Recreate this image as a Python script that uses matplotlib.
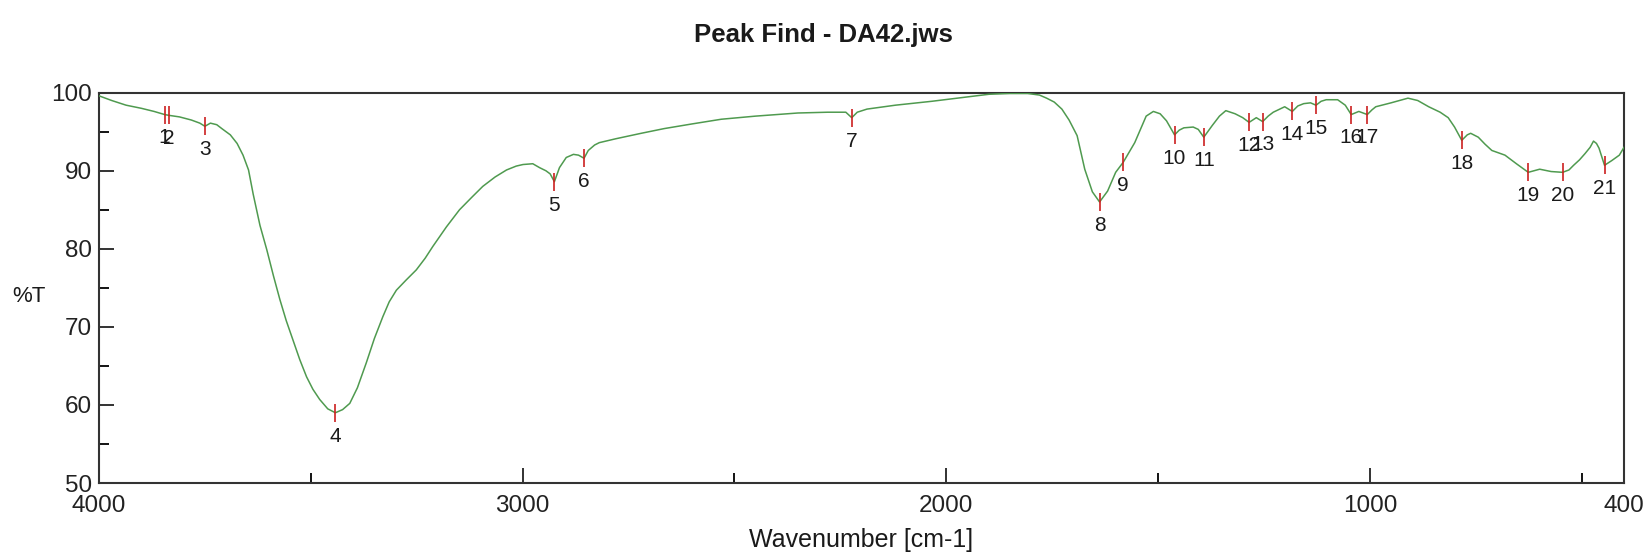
import matplotlib
matplotlib.use("Agg")
import matplotlib.pyplot as plt
from matplotlib.ticker import MultipleLocator

plt.rcParams['font.family'] = ['Liberation Sans', 'DejaVu Sans']

# IR spectrum trace (wavenumber in cm-1, transmittance in %T)
wavenumber = [
    4000, 3970, 3936, 3900, 3870, 3845, 3835, 3810, 3782, 3762, 3750, 3737,
    3722, 3710, 3690, 3674, 3660, 3647, 3636, 3620, 3604, 3588, 3573, 3558,
    3542, 3526, 3510, 3495, 3479, 3460, 3442, 3425, 3408, 3390, 3369, 3350,
    3330, 3315, 3298, 3275, 3251, 3230, 3212, 3180, 3149, 3120, 3094, 3065,
    3038, 3015, 2999, 2976, 2960, 2945, 2935, 2925, 2913, 2897, 2880, 2868,
    2855, 2845, 2830, 2819, 2780, 2720, 2666, 2600, 2531, 2450, 2350, 2280,
    2237, 2223, 2210, 2187, 2120, 2034, 1960, 1899, 1850, 1808, 1780, 1763,
    1745, 1727, 1710, 1691, 1673, 1655, 1638, 1619, 1600, 1582, 1570, 1555,
    1540, 1528, 1511, 1495, 1480, 1461, 1450, 1439, 1417, 1405, 1392, 1380,
    1372, 1355, 1340, 1318, 1300, 1285, 1268, 1253, 1240, 1228, 1201, 1183,
    1170, 1156, 1140, 1127, 1115, 1103, 1076, 1058, 1044, 1026, 1006, 995,
    986, 950, 910, 887, 861, 834, 815, 800, 783, 770, 762, 744,
    728, 712, 681, 654, 626, 599, 572, 545, 530, 519, 505, 492,
    480, 472, 465, 459, 446, 429, 411, 400,
]
transmittance = [
    99.6, 99.0, 98.4, 98.0, 97.6, 97.2, 97.1, 96.9, 96.5, 96.1, 95.7, 96.1,
    95.9, 95.4, 94.6, 93.5, 92.0, 90.1, 87.0, 83.0, 79.9, 76.5, 73.5, 70.8,
    68.3, 65.8, 63.6, 62.0, 60.7, 59.5, 59.0, 59.4, 60.2, 62.2, 65.4, 68.5,
    71.3, 73.2, 74.7, 76.0, 77.3, 78.8, 80.3, 82.8, 85.0, 86.6, 88.0, 89.2,
    90.1, 90.6, 90.8, 90.9, 90.4, 90.0, 89.6, 88.6, 90.4, 91.7, 92.1, 92.0,
    91.6, 92.6, 93.3, 93.6, 94.1, 94.8, 95.4, 96.0, 96.6, 97.0, 97.4, 97.5,
    97.5, 96.8, 97.5, 97.9, 98.4, 98.9, 99.4, 99.8, 99.9, 99.9, 99.7, 99.3,
    98.8, 97.9, 96.5, 94.5, 90.2, 87.3, 86.0, 87.4, 89.8, 91.1, 92.2, 93.6,
    95.5, 97.0, 97.6, 97.3, 96.4, 94.6, 95.2, 95.5, 95.6, 95.3, 94.3, 95.2,
    95.8, 97.0, 97.7, 97.3, 96.8, 96.2, 96.8, 96.3, 97.0, 97.5, 98.2, 97.6,
    98.3, 98.6, 98.7, 98.4, 98.9, 99.1, 99.1, 98.4, 97.2, 97.6, 97.2, 97.8,
    98.2, 98.7, 99.3, 99.0, 98.2, 97.5, 96.8, 95.6, 93.9, 94.6, 94.8, 94.3,
    93.4, 92.6, 92.0, 90.9, 89.8, 90.2, 89.9, 89.8, 90.1, 90.7, 91.4, 92.2,
    93.0, 93.8, 93.5, 92.9, 90.7, 91.3, 92.0, 93.0,
]

# Peaks found by the peak-pick routine
peak_wn = [3845, 3835, 3750, 3442, 2925, 2855, 2223, 1638, 1582, 1461, 1392,
           1285, 1253, 1183, 1127, 1044, 1006, 783, 626, 545, 446]
peak_t = [97.2, 97.1, 95.7, 59.0, 88.6, 91.6, 96.8, 86.0, 91.1, 94.6, 94.3,
          96.2, 96.3, 97.6, 98.4, 97.2, 97.2, 93.9, 89.8, 89.8, 90.7]
peak_labels = [str(i) for i in range(1, 22)]

fig = plt.figure(figsize=(16.46, 5.52), dpi=100)
ax = fig.add_axes([99 / 1646, 1 - 483 / 552, (1624 - 99) / 1646, (483 - 92.7) / 552])

ax.plot(wavenumber, transmittance, color='#4f9a4f', lw=1.1, zorder=3)

# Peak markers and numbers
ax.plot(peak_wn, peak_t, linestyle='none', marker='|', markersize=12.5,
        markeredgewidth=1.2, color='#cc2020', zorder=4)
for w, t, lab in zip(peak_wn, peak_t, peak_labels):
    ax.annotate(lab, xy=(w, t), xytext=(0, -10), textcoords='offset points',
                ha='center', va='top', fontsize=15, color='#1a1a1a')

ax.set_xlim(4000, 400)
ax.set_ylim(50, 100)
ax.xaxis.set_major_locator(MultipleLocator(1000))
ax.xaxis.set_minor_locator(MultipleLocator(500))
ax.yaxis.set_major_locator(MultipleLocator(10))
ax.yaxis.set_minor_locator(MultipleLocator(5))
ax.set_xticks([4000, 3000, 2000, 1000, 400])
ax.set_xticklabels(['4000', '3000', '2000', '1000', '400'])

ax.tick_params(axis='both', which='major', direction='in', length=11, width=1.3,
               labelsize=17.5, colors='#222222', top=False, right=False)
ax.tick_params(axis='both', which='minor', direction='in', length=7, width=1.3,
               top=False, right=False)
ax.tick_params(axis='x', which='major', pad=9)
ax.tick_params(axis='y', which='major', pad=5)
# Hide tick marks at the plot frame corners
for tk in ax.xaxis.get_major_ticks():
    if tk.get_loc() in (4000, 400):
        tk.tick1line.set_visible(False)
for tk in ax.yaxis.get_major_ticks():
    if tk.get_loc() in (50, 100):
        tk.tick1line.set_visible(False)

for sp in ax.spines.values():
    sp.set_linewidth(1.5)
    sp.set_color('#333333')

fig.text(0.5, 1 - 35 / 552, 'Peak Find - DA42.jws', ha='center', va='center',
         fontsize=18.5, fontweight='bold', color='#1a1a1a')
fig.text(29 / 1646, 1 - 297 / 552, '%T', ha='center', va='center',
         fontsize=16, color='#1a1a1a')
fig.text(861 / 1646, 1 - 540 / 552, 'Wavenumber [cm-1]', ha='center',
         va='center', fontsize=18, color='#1a1a1a')

fig.savefig('out.png', dpi=100, facecolor='white')
